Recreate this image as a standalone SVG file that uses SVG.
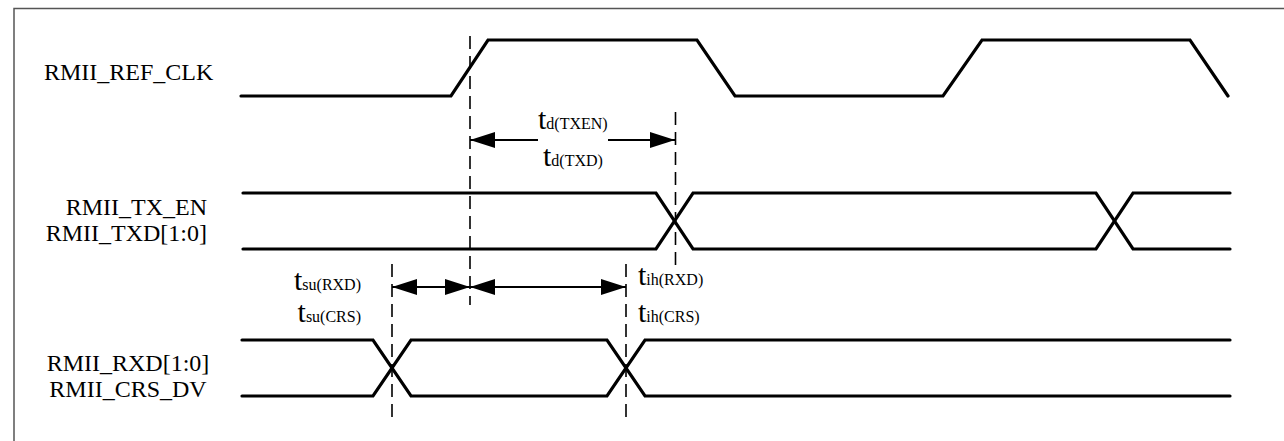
<svg xmlns="http://www.w3.org/2000/svg" width="1284" height="441" viewBox="0 0 1284 441">
<style>
.sig{fill:none;stroke:#000;stroke-width:3.2;stroke-linecap:round;stroke-linejoin:miter}
.dash{fill:none;stroke:#000;stroke-width:1.6;stroke-dasharray:13 7}
.arr{fill:none;stroke:#000;stroke-width:1.8}
.lbl{font-family:"Liberation Serif","Times New Roman",serif;font-size:24px;fill:#000}
.t{font-family:"Liberation Serif","Times New Roman",serif;font-size:30px;fill:#000}
.sub{font-size:16px}
</style>
<defs>
<marker id="ah" markerUnits="userSpaceOnUse" markerWidth="26" markerHeight="18" viewBox="0 -9 26 18" refX="25" refY="0" orient="auto-start-reverse">
<path d="M0,-8 L25,0 L0,8 z" fill="#000"/>
</marker>
</defs>
<rect x="14" y="8.5" width="1400" height="600" fill="#fff" stroke="#555" stroke-width="1.5"/>
<g id="clk">
<text class="lbl" x="44" y="80">RMII_REF_CLK</text>
<path class="sig" d="M241,96 L451,96 L488,40 L697,40 L735,96 L943,96 L982,40 L1190,40 L1228,96"/>
</g>
<g id="tx">
<text class="lbl" x="207" y="215" text-anchor="end">RMII_TX_EN</text>
<text class="lbl" x="207" y="241" text-anchor="end">RMII_TXD[1:0]</text>
<path class="sig" d="M243,193 L656,193 L693,249 L1096,249 L1133,193 L1230,193"/>
<path class="sig" d="M243,249 L656,249 L693,193 L1096,193 L1133,249 L1230,249"/>
</g>
<g id="rx">
<text class="lbl" x="128" y="371" text-anchor="middle">RMII_RXD[1:0]</text>
<text class="lbl" x="128" y="397" text-anchor="middle">RMII_CRS_DV</text>
<path class="sig" d="M242,340 L373,340 L411,396 L607,396 L645,340 L1230,340"/>
<path class="sig" d="M242,396 L373,396 L411,340 L607,340 L645,396 L1230,396"/>
</g>
<g id="connectors">
<line class="dash" x1="470" y1="36" x2="470" y2="305"/>
<line class="dash" x1="675.5" y1="112" x2="675.5" y2="268"/>
<line class="dash" x1="392" y1="264" x2="392" y2="422"/>
<line class="dash" x1="626" y1="264" x2="626" y2="422"/>
<line class="arr" x1="538" y1="140" x2="470" y2="140" marker-end="url(#ah)"/>
<line class="arr" x1="608" y1="140" x2="675" y2="140" marker-end="url(#ah)"/>
<line class="arr" x1="392" y1="287" x2="470" y2="287" marker-start="url(#ah)" marker-end="url(#ah)"/>
<line class="arr" x1="470" y1="287" x2="626" y2="287" marker-start="url(#ah)" marker-end="url(#ah)"/>
</g>
<g id="labels">
<text class="t" x="538" y="129">t<tspan class="sub">d(TXEN)</tspan></text>
<text class="t" x="543" y="166">t<tspan class="sub">d(TXD)</tspan></text>
<text class="t" x="361" y="290" text-anchor="end">t<tspan class="sub">su(RXD)</tspan></text>
<text class="t" x="361" y="322" text-anchor="end">t<tspan class="sub">su(CRS)</tspan></text>
<text class="t" x="638" y="285">t<tspan class="sub">ih(RXD)</tspan></text>
<text class="t" x="638" y="322">t<tspan class="sub">ih(CRS)</tspan></text>
</g>
</svg>
